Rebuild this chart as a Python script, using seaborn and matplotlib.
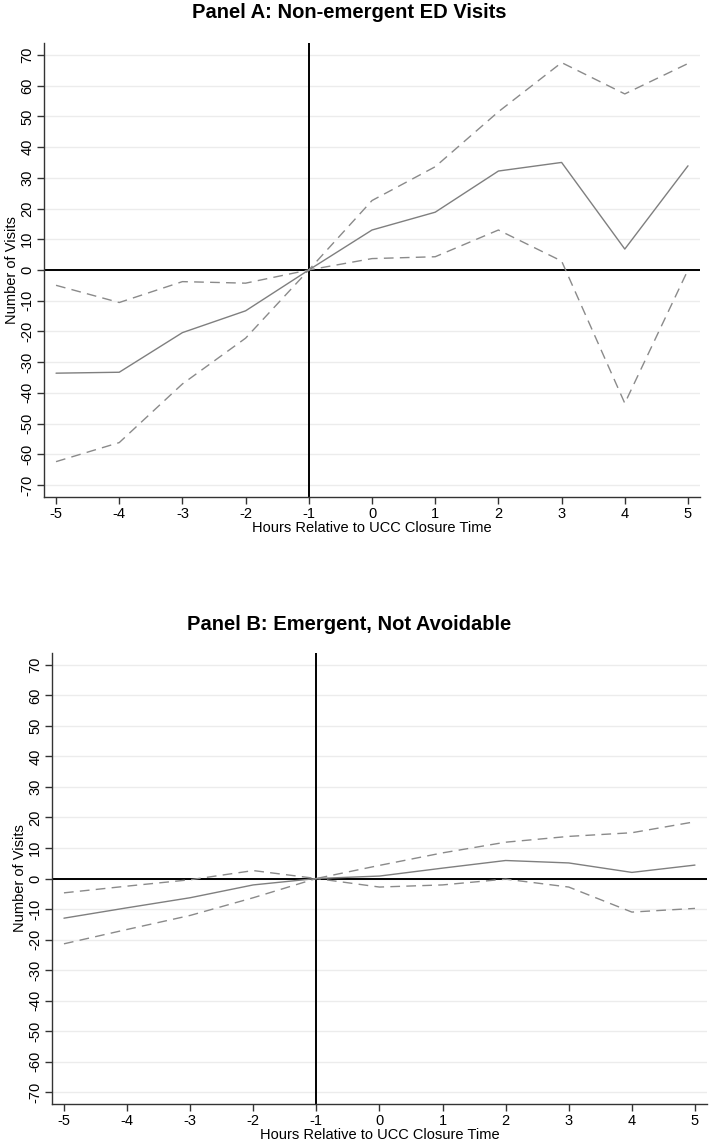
import matplotlib
matplotlib.use('Agg')
import matplotlib.pyplot as plt
import seaborn as sns
import pandas as pd

# Horas relativas ao fechamento da UCC
hours = [-5, -4, -3, -2, -1, 0, 1, 2, 3, 4, 5]

# Painel A: visitas não emergentes
a_coef = [-33.6, -33.3, -20.4, -13.3, 0, 13.0, 18.8, 32.2, 35.0, 6.8, 33.9]
a_upper = [-5.0, -10.6, -3.8, -4.3, 0, 22.6, 33.6, 51.5, 67.5, 57.3, 67.2]
a_lower = [-62.4, -56.2, -37.1, -22.2, 0, 3.7, 4.3, 13.0, 2.9, -43.4, 0.0]

# Painel B: emergentes, não evitáveis
b_coef = [-13.0, -9.6, -6.3, -2.1, 0, 0.8, 3.4, 5.9, 5.1, 2.0, 4.4]
b_upper = [-4.7, -2.5, -0.4, 2.6, 0, 4.3, 8.4, 11.9, 13.8, 15.0, 18.6]
b_lower = [-21.4, -16.7, -12.1, -6.3, 0, -2.8, -2.1, -0.2, -2.8, -11.0, -9.8]

y_ticks = list(range(-70, 80, 10))

sns.set_style('white')
plt.rcParams['font.family'] = ['Liberation Sans', 'DejaVu Sans']
plt.rcParams['axes.unicode_minus'] = False
plt.rcParams['text.color'] = 'black'
plt.rcParams['axes.labelcolor'] = 'black'
plt.rcParams['xtick.color'] = 'black'
plt.rcParams['ytick.color'] = 'black'


def panel(ax, coef, upper, lower, title, title_y):
    df = pd.DataFrame({'hour': hours, 'coef': coef, 'upper': upper, 'lower': lower})
    for y in y_ticks:
        ax.axhline(y, color='#ececec', lw=1.0, zorder=0)
    ax.axhline(0, color='black', lw=1.4, zorder=1)
    ax.axvline(-1, color='black', lw=1.4, zorder=1)

    sns.lineplot(data=df, x='hour', y='coef', ax=ax, color='#7f7f7f', lw=1.0, zorder=3)
    sns.lineplot(data=df, x='hour', y='upper', ax=ax, color='#8a8a8a', lw=1.0,
                 dashes=False, linestyle=(0, (7, 4.5)), zorder=3)
    sns.lineplot(data=df, x='hour', y='lower', ax=ax, color='#8a8a8a', lw=1.0,
                 dashes=False, linestyle=(0, (7, 4.5)), zorder=3)

    ax.set_xlim(-5.19, 5.19)
    ax.set_ylim(-73.9, 73.9)
    ax.set_xticks(hours)
    ax.set_yticks(y_ticks)
    ax.tick_params(axis='y', labelrotation=90, labelsize=10.5, length=5, width=1,
                   color='#333333', pad=2, left=True)
    ax.tick_params(axis='x', labelsize=10.5, length=5, width=1, color='#333333',
                   pad=2, bottom=True)
    for lbl in ax.get_yticklabels():
        lbl.set_va('center')
    for s in ['top', 'right']:
        ax.spines[s].set_visible(False)
    for s in ['left', 'bottom']:
        ax.spines[s].set_color('#333333')
        ax.spines[s].set_linewidth(1.0)

    ax.set_xlabel('Hours Relative to UCC Closure Time', fontsize=10.5, labelpad=0)
    ax.set_ylabel('Number of Visits', fontsize=10.5, labelpad=1)

    fig.text(0.492, title_y, title, ha='center', va='baseline',
             fontsize=14.5, fontweight='bold', color='black')


fig = plt.figure(figsize=(7.09, 11.48), dpi=100)

ax1 = fig.add_axes([0.0621, 0.5671, 0.9252, 0.3955])
panel(ax1, a_coef, a_upper, a_lower, 'Panel A: Non-emergent ED Visits', 0.9843)

ax2 = fig.add_axes([0.0733, 0.0383, 0.9238, 0.3929])
panel(ax2, b_coef, b_upper, b_lower, 'Panel B: Emergent, Not Avoidable', 0.4512)

plt.savefig('out.png', dpi=100)
plt.close()
